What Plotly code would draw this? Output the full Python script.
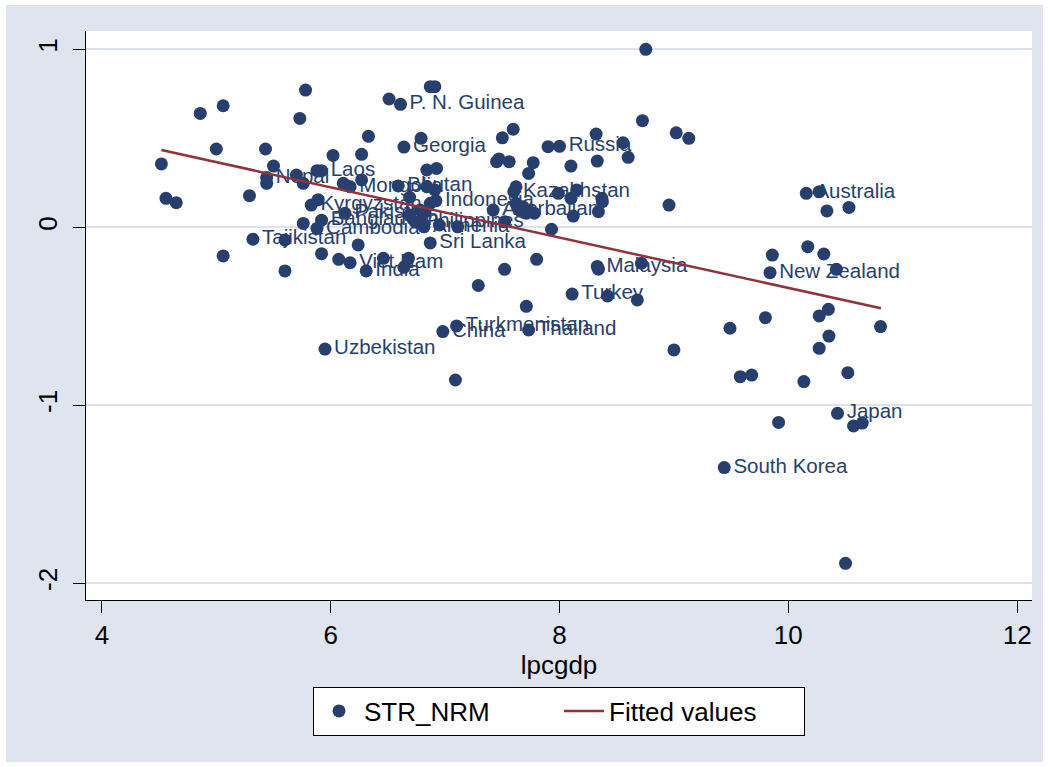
import plotly.graph_objects as go

# ---- data ----
lpcgdp = [4.52, 4.56, 4.65, 4.86, 5.06, 5.00, 5.06, 5.29, 5.32, 5.43,
          5.44, 5.44, 5.50, 5.60, 5.60, 5.73, 5.78, 5.70, 5.76, 5.76,
          5.83, 5.89, 5.88, 5.92, 5.88, 5.92, 5.92, 5.95, 6.02, 6.07,
          6.11, 6.17, 6.125, 6.17, 6.24, 6.27, 6.27, 6.31, 6.33, 6.46,
          6.51, 6.61, 6.64, 6.59, 6.69, 6.68, 6.64, 6.79, 6.87, 6.91,
          6.84, 6.925, 6.84, 6.91, 6.87, 6.92, 6.78, 6.69, 6.74, 6.81,
          6.815, 6.95, 7.11, 6.87, 6.98, 7.10, 7.09, 7.29, 7.42, 7.45,
          7.47, 7.50, 7.56, 7.595, 7.60, 7.62, 7.62, 7.68, 7.71, 7.74,
          7.78, 7.52, 7.52, 7.71, 7.73, 7.77, 7.73, 7.80, 7.90, 7.93,
          8.00, 7.99, 8.10, 8.10, 8.15, 8.12, 8.11, 8.32, 8.33, 8.37,
          8.375, 8.34, 8.33, 8.34, 8.42, 8.555, 8.60, 8.68, 8.716, 8.725,
          8.754, 8.957, 9.00, 9.02, 9.13, 9.44, 9.49, 9.58, 9.68, 9.80,
          9.84, 9.86, 9.915, 10.136, 10.157, 10.17, 10.27, 10.27, 10.27, 10.31,
          10.337, 10.35, 10.355, 10.42, 10.43, 10.50, 10.52, 10.53, 10.57, 10.646,
          10.806, 6.125, 6.81, 7.65]
str_nrm = [0.356, 0.163, 0.138, 0.640, 0.683, 0.440, -0.161, 0.178, -0.067, 0.440,
           0.280, 0.247, 0.344, -0.071, -0.245, 0.612, 0.771, 0.294, 0.247, 0.022,
           0.125, 0.155, 0.318, 0.318, -0.006, 0.040, -0.148, -0.684, 0.404, -0.180,
           0.247, 0.228, 0.079, -0.199, -0.099, 0.410, 0.266, -0.245, 0.511, -0.174,
           0.721, 0.691, 0.451, 0.232, 0.169, -0.174, -0.225, 0.500, 0.790, 0.790,
           0.322, 0.331, 0.228, 0.210, 0.135, 0.149, 0.097, 0.069, 0.030, 0.013,
           0.003, 0.013, 0.003, -0.088, -0.586, -0.554, -0.858, -0.327, 0.097, 0.369,
           0.384, 0.503, 0.369, 0.551, 0.200, 0.228, 0.135, 0.116, 0.079, 0.088,
           0.079, 0.031, -0.236, -0.444, 0.303, 0.363, -0.577, -0.180, 0.453, -0.011,
           0.455, 0.191, 0.344, 0.163, 0.210, 0.063, -0.375, 0.524, 0.372, 0.163,
           0.144, 0.088, -0.220, -0.235, -0.386, 0.475, 0.393, -0.408, -0.202, 0.599,
           1.000, 0.125, -0.689, 0.531, 0.500, -1.350, -0.567, -0.839, -0.830, -0.508,
           -0.255, -0.156, -1.096, -0.867, 0.191, -0.109, 0.200, -0.498, -0.680, -0.150,
           0.092, -0.461, -0.611, -0.236, -1.045, -1.888, -0.817, 0.112, -1.116, -1.100,
           -0.558, 0.238, 0.079, 0.097]
country = [""] * len(lpcgdp)
label_at = {8: "Tajikistan", 10: "Nepal", 20: "Kyrgyzstan", 23: "Laos",
            24: "Cambodia", 25: "Bangladesh", 27: "Uzbekistan", 31: "Mongolia",
            32: "Pakistan", 33: "Viet Nam", 37: "India", 41: "P. N. Guinea",
            42: "Georgia", 43: "Bhutan", 55: "Indonesia", 60: "Armenia",
            58: "Philippines", 63: "Sri Lanka", 64: "China", 65: "Turkmenistan",
            68: "Azerbaijan", 74: "Kazakhstan", 86: "Thailand", 90: "Russia",
            96: "Turkey", 102: "Malaysia", 115: "South Korea", 120: "New Zealand",
            124: "Australia", 134: "Japan"}
for k, v in label_at.items():
    country[k] = v

fit_x = [4.52, 10.81]
fit_y = [0.434, -0.455]
x_ticks = [4, 6, 8, 10, 12]
y_ticks = [-2, -1, 0, 1]

NAVY = "#263F6E"
MAROON = "#913338"
BG = "#E0E4EF"
FONT = "Liberation Sans, Arial, sans-serif"

W, H = 1049, 767
L, R, T, B = 86, 1032, 31, 600
pw, ph = R - L, B - T


def px2paper_x(px):
    return (px - L) / pw


def px2paper_y(py):
    return (B - py) / ph


fig = go.Figure()
fig.add_trace(go.Scatter(
    x=lpcgdp, y=str_nrm, mode="markers+text", text=country,
    textposition="middle right", name="STR_NRM",
    marker=dict(size=13, color=NAVY),
    textfont=dict(family=FONT, size=20.5, color=NAVY),
))
fig.add_trace(go.Scatter(
    x=fit_x, y=fit_y, mode="lines", name="Fitted values",
    line=dict(color=MAROON, width=2.5),
))

# white outer border around the grey graph region
shapes = []
for (x0, y0, x1, y1) in [(0, 0, 6, H), (W - 6, 0, W, H), (0, 0, W, 5), (0, H - 5, W, H)]:
    shapes.append(dict(type="rect", xref="paper", yref="paper",
                       x0=px2paper_x(x0), x1=px2paper_x(x1),
                       y0=px2paper_y(y1), y1=px2paper_y(y0),
                       fillcolor="white", line=dict(width=0), layer="below"))

fig.update_layout(
    width=W, height=H, autosize=False,
    margin=dict(l=L, r=W - R, t=T, b=H - B, pad=0),
    paper_bgcolor=BG, plot_bgcolor="white",
    font=dict(family=FONT, size=26, color="black"),
    showlegend=True,
    legend=dict(orientation="h", x=0.5, xanchor="center",
                y=px2paper_y(711), yanchor="middle",
                bgcolor="white", bordercolor="black", borderwidth=1,
                font=dict(family=FONT, size=26, color="black"),
                entrywidth=190, itemwidth=40),
    shapes=shapes,
)
fig.update_xaxes(
    range=[3.861, 12.130], tickvals=x_ticks, ticktext=[str(v) for v in x_ticks],
    ticks="outside", ticklen=12, tickwidth=1, tickcolor="black",
    showline=True, linecolor="black", linewidth=1,
    showgrid=False, zeroline=False, automargin=False,
    tickfont=dict(family=FONT, size=26, color="black"),
    title=dict(text="lpcgdp", font=dict(family=FONT, size=26, color="black"), standoff=0),
)
fig.update_yaxes(
    range=[-2.094, 1.103], tickvals=y_ticks, ticktext=[str(v) for v in y_ticks],
    tickangle=-90, ticklabelstandoff=6,
    ticks="outside", ticklen=12, tickwidth=1, tickcolor="black",
    showline=True, linecolor="black", linewidth=1,
    showgrid=True, gridcolor="#DDE2EE", gridwidth=2, zeroline=False, automargin=False,
    tickfont=dict(family=FONT, size=26, color="black"),
)

fig.write_html("out.html", config={"displayModeBar": False},
               post_script="document.body.style.margin='0';document.body.style.padding='0';")
